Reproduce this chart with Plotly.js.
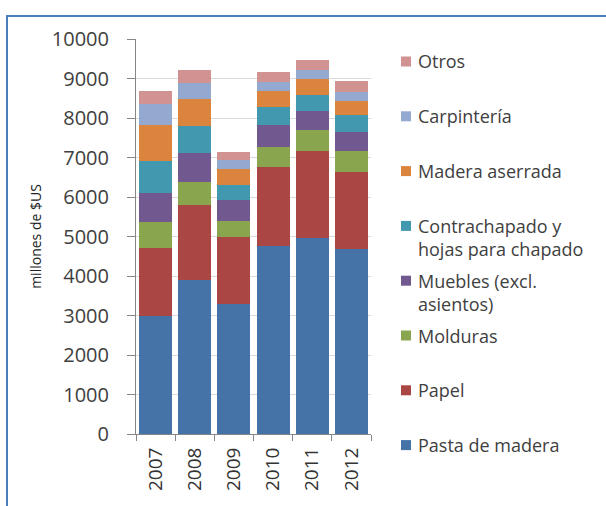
<!DOCTYPE html>
<html>
<head>
<meta charset="utf-8">
<script src="https://cdn.plot.ly/plotly-3.0.1.min.js"></script>
<style>
  html, body { margin: 0; padding: 0; background: #fff; }
  #wrap { position: relative; width: 606px; height: 506px; }
  #chart { width: 606px; height: 506px; }
  #frame { position: absolute; left: 6px; top: 15px; width: 600px; height: 491px;
           border-left: 2px solid #4A7EBB; border-top: 2px solid #4A7EBB; pointer-events: none; box-sizing: border-box; }
</style>
</head>
<body>
<div id="wrap"><div id="chart"></div><div id="frame"></div></div>
<script>
// ---- data ----
const years = ['2007', '2008', '2009', '2010', '2011', '2012'];
const pastaDeMadera = [3000, 3890, 3300, 4750, 4965, 4685];
const papel = [1700, 1920, 1680, 2000, 2190, 1950];
const molduras = [660, 560, 400, 515, 550, 540];
const muebles = [735, 735, 550, 555, 475, 465];
const contrachapado = [810, 685, 370, 455, 415, 430];
const maderaAserrada = [920, 695, 400, 405, 405, 355];
const carpinteria = [530, 405, 230, 230, 210, 240];
const otros = [320, 320, 220, 245, 270, 270];

const seriesNames = ['Pasta de madera', 'Papel', 'Molduras', 'Muebles (excl.<br>asientos)',
  'Contrachapado y<br>hojas para chapado', 'Madera aserrada', 'Carpintería', 'Otros'];
const seriesValues = [pastaDeMadera, papel, molduras, muebles, contrachapado, maderaAserrada, carpinteria, otros];
const seriesColors = ['#4572A7', '#AA4643', '#89A54E', '#71588F', '#4198AF', '#DB843D', '#93A9CF', '#D19392'];
const yTicks = [0, 1000, 2000, 3000, 4000, 5000, 6000, 7000, 8000, 9000, 10000];

// ---- geometry helpers (plot area in pixels) ----
const W = 606, H = 506;
const L = 136, R = 371, T = 39, B = 434;
const px2x = px => (px - L) / (R - L);
const py2y = py => (B - py) / (B - T);

const traces = seriesValues.map((vals, i) => ({
  type: 'bar',
  name: seriesNames[i].replace('<br>', ' '),
  x: years,
  y: vals,
  marker: { color: seriesColors[i], line: { width: 0 } },
  showlegend: false,
  hoverinfo: 'x+y+name'
}));

// custom legend (Excel-like spacing)
const annotations = [];
const shapes = [];
const FS = 18, LINE = FS * 1.3;
const legendFont = { family: 'Open Sans, sans-serif', size: FS, color: '#404040' };
for (let k = 0; k < seriesNames.length; k++) {
  const i = seriesNames.length - 1 - k;
  const yc = 61.5 + 54.8 * k;
  shapes.push({
    type: 'rect', xref: 'paper', yref: 'paper', layer: 'above',
    x0: px2x(401), x1: px2x(411), y0: py2y(yc - 5), y1: py2y(yc + 5),
    fillcolor: seriesColors[i], line: { width: 0 }
  });
  const nLines = seriesNames[i].split('<br>').length;
  annotations.push({
    xref: 'paper', yref: 'paper', x: px2x(416), y: py2y(yc + LINE * (nLines - 1) / 2),
    xanchor: 'left', yanchor: 'middle', align: 'left', showarrow: false,
    text: seriesNames[i], font: legendFont
  });
}

const layout = {
  width: W, height: H,
  margin: { l: L, r: W - R, t: T, b: H - B, pad: 0 },
  paper_bgcolor: '#ffffff', plot_bgcolor: '#ffffff',
  barmode: 'stack', bargap: 0.16,
  showlegend: false,
  font: { family: 'Open Sans, sans-serif', color: '#404040' },
  xaxis: {
    type: 'category', tickangle: -90, tickson: 'boundaries',
    ticks: 'outside', ticklen: 6, tickcolor: '#868686', tickwidth: 1,
    showline: true, linecolor: '#868686', linewidth: 1,
    showgrid: false, zeroline: false,
    tickfont: { family: 'Open Sans, sans-serif', size: 19, color: '#333333' },
    ticklabelstandoff: 5, automargin: false
  },
  yaxis: {
    range: [0, 10000], tickvals: yTicks, ticktext: yTicks.map(String),
    ticks: 'outside', ticklen: 8, tickcolor: '#868686', tickwidth: 1,
    showline: true, linecolor: '#868686', linewidth: 1,
    showgrid: true, gridcolor: '#D9D9D9', gridwidth: 1, zeroline: false,
    tickfont: { family: 'Open Sans, sans-serif', size: 20, color: '#404040' },
    ticklabelstandoff: 14, automargin: false,
    title: { text: 'millones de $US', font: { family: 'Open Sans, sans-serif', size: 14, color: '#222222' }, standoff: 6 }
  },
  annotations: annotations,
  shapes: shapes
};

Plotly.newPlot('chart', traces, layout, { displayModeBar: false, staticPlot: true });
</script>
</body>
</html>
